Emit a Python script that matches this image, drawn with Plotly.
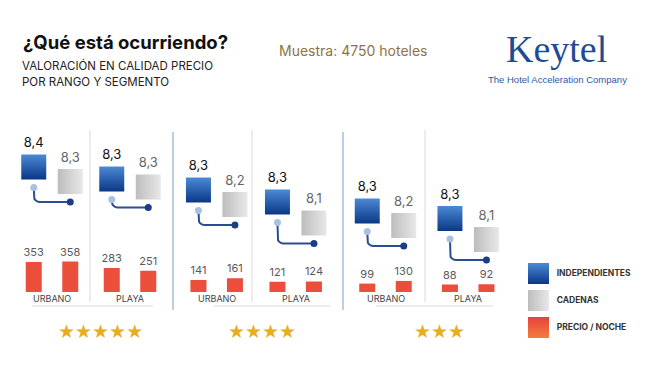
import numpy as np
import plotly.graph_objects as go

# page has an 8px body margin: figure is drawn 8px in from the window edge
OFF = 8
W, H = 642, 359

# ---------------- DATA ----------------
star_groups = ["★★★★★", "★★★★", "★★★"]
segment_names = ["URBANO", "PLAYA", "URBANO", "PLAYA", "URBANO", "PLAYA"]
series_names = ["INDEPENDIENTES", "CADENAS", "PRECIO / NOCHE"]
rating_ind = [8.4, 8.3, 8.3, 8.3, 8.3, 8.3]
rating_cad = [8.3, 8.3, 8.2, 8.1, 8.2, 8.1]
price_ind = [353, 283, 141, 121, 99, 88]
price_cad = [358, 251, 161, 124, 130, 92]

# ---------------- LAYOUT CONSTANTS (window pixels) ----------------
SEG_CENTER_PX = [52, 130, 216.7, 295.7, 385.5, 468.2]
SEG_HALF_PX = 36.5
REF_RATING = 8.3
REF_Y_PX = [173.5, 179, 190, 202, 211, 218.5]   # staircase layout of the panels
PX_PER_POINT = 65.0
CAD_DROP_PX = 8.0
BASELINE_PX = 292.0
PX_PER_EUR = 0.085
SQ = 25

BLUE_TOP, BLUE_BOT = "#4C8AD6", "#0A3786"
GRAY_L, GRAY_R = "#BDBDBD", "#E8E8E8"
RED = "#EB4E3A"
RED_TOP, RED_BOT = "#E8413A", "#F27C3E"


def px(x):
    return (x - OFF) / W


def py(y):
    return 1 - (y - OFF) / H


def fmt(v):
    return f"{v:.1f}".replace(".", ",")


fig = go.Figure()
layout = dict(
    width=W, height=H, autosize=False,
    margin=dict(l=0, r=0, t=0, b=0),
    paper_bgcolor="white", plot_bgcolor="rgba(0,0,0,0)",
    showlegend=False,
    font=dict(family="Inter, Roboto, sans-serif", color="#222"),
)

# price axis shared by all bars
layout["yaxis"] = dict(domain=[py(BASELINE_PX), 1], range=[0, (BASELINE_PX - OFF) / PX_PER_EUR],
                       visible=False, fixedrange=True)

x_per_px = 2.0 / (2 * SEG_HALF_PX)
y_per_px = 1.0 / PX_PER_POINT

for k in range(6):
    xa = "x" if k == 0 else f"x{k+1}"
    xkey = "xaxis" if k == 0 else f"xaxis{k+1}"
    ya = f"y{k+2}"
    ykey = f"yaxis{k+2}"
    c = SEG_CENTER_PX[k]
    layout[xkey] = dict(domain=[px(c - SEG_HALF_PX), px(c + SEG_HALF_PX)], range=[-0.5, 1.5],
                        visible=False, fixedrange=True, anchor="y")
    r_top = REF_RATING + (REF_Y_PX[k] - OFF) / PX_PER_POINT
    layout[ykey] = dict(domain=[0, 1], range=[r_top - H / PX_PER_POINT, r_top],
                        visible=False, fixedrange=True, anchor="free", position=0)

    # price bars
    fig.add_trace(go.Bar(
        x=[0, 1], y=[price_ind[k], price_cad[k]], xaxis=xa, yaxis="y",
        width=16 * x_per_px, marker=dict(color=RED, line=dict(width=0)),
        text=[str(price_ind[k]), str(price_cad[k])], textposition="outside",
        constraintext="none",
        textfont=dict(size=11, color="#5a5a5a", family="Inter, sans-serif"),
        cliponaxis=False, hoverinfo="skip"))

    ri = rating_ind[k]
    rc = rating_cad[k] - CAD_DROP_PX * y_per_px

    # connector
    d1 = (SQ / 2 + 8) * y_per_px
    y_light = ri - d1
    y_dark = rc - d1
    rx, ry = 6 * x_per_px, 6 * y_per_px
    t = np.linspace(np.pi, 1.5 * np.pi, 8)
    arc_x = rx + rx * np.cos(t)
    arc_y = y_dark + ry + ry * np.sin(t)
    cx = [0] + list(arc_x) + [1]
    cy = [y_light] + list(arc_y) + [y_dark]
    fig.add_trace(go.Scatter(x=cx, y=cy, xaxis=xa, yaxis=ya, mode="lines",
                             line=dict(color="#2B4D92", width=2), hoverinfo="skip"))
    fig.add_trace(go.Scatter(x=[0], y=[y_light], xaxis=xa, yaxis=ya, mode="markers",
                             marker=dict(color="#A9C1E0", size=7), hoverinfo="skip"))
    fig.add_trace(go.Scatter(x=[1], y=[y_dark], xaxis=xa, yaxis=ya, mode="markers",
                             marker=dict(color="#1B3C88", size=7), hoverinfo="skip"))

    # squares
    fig.add_trace(go.Scatter(
        x=[0], y=[ri], xaxis=xa, yaxis=ya, mode="markers+text",
        marker=dict(symbol="square", size=SQ, color=BLUE_TOP, line=dict(width=0),
                    gradient=dict(type="vertical", color=BLUE_BOT)),
        text=[fmt(rating_ind[k])], textposition="top center",
        textfont=dict(size=13, color="#111", family="Inter, sans-serif"),
        cliponaxis=False, hoverinfo="skip"))
    fig.add_trace(go.Scatter(
        x=[1], y=[rc], xaxis=xa, yaxis=ya, mode="markers+text",
        marker=dict(symbol="square", size=SQ, color=GRAY_L, line=dict(width=0),
                    gradient=dict(type="horizontal", color=GRAY_R)),
        text=[fmt(rating_cad[k])], textposition="top center",
        textfont=dict(size=13, color="#666", family="Inter, sans-serif"),
        cliponaxis=False, hoverinfo="skip"))

# legend overlay axis in window-pixel units
layout["xaxis7"] = dict(domain=[0, 1], range=[OFF, OFF + W], visible=False, fixedrange=True, anchor="y8")
layout["yaxis8"] = dict(domain=[0, 1], range=[OFF + H, OFF], visible=False, fixedrange=True, anchor="x7")
leg_y = [273.5, 300.5, 327.5]
leg_cols = [(BLUE_TOP, BLUE_BOT, "vertical"), (GRAY_L, GRAY_R, "horizontal"), (RED_TOP, RED_BOT, "vertical")]
for i, (c1, c2, gt) in enumerate(leg_cols):
    fig.add_trace(go.Scatter(x=[538.5], y=[leg_y[i]], xaxis="x7", yaxis="y8", mode="markers+text",
                             marker=dict(symbol="square", size=21, color=c1, line=dict(width=0),
                                         gradient=dict(type=gt, color=c2)),
                             text=["  " + series_names[i]], textposition="middle right",
                             textfont=dict(size=8.5, color="#333", family="Inter, sans-serif", weight="bold"),
                             hoverinfo="skip"))

shapes = []
for xg in [173, 343]:
    shapes.append(dict(type="line", xref="paper", yref="paper", x0=px(xg), x1=px(xg),
                       y0=py(132), y1=py(310), line=dict(color="#A8BDDB", width=1.5)))
for xs in [90, 252, 425]:
    shapes.append(dict(type="line", xref="paper", yref="paper", x0=px(xs), x1=px(xs),
                       y0=py(130), y1=py(302), line=dict(color="#E6E6E6", width=1.5)))
for a, b in [(32, 153), (214, 330), (376, 493)]:
    shapes.append(dict(type="line", xref="paper", yref="paper", x0=px(a), x1=px(b),
                       y0=py(306), y1=py(306), line=dict(color="#D9D9D9", width=1)))
layout["shapes"] = shapes

ann = []
ann.append(dict(text="<b>¿Qué está ocurriendo?</b>", x=px(21), y=py(42), xref="paper", yref="paper",
                xanchor="left", yanchor="middle", showarrow=False,
                font=dict(size=18.5, color="#111", family="Inter, sans-serif")))
ann.append(dict(text="VALORACIÓN EN CALIDAD PRECIO", x=px(20), y=py(65), xref="paper", yref="paper",
                xanchor="left", yanchor="middle", showarrow=False,
                font=dict(size=11.5, color="#222", family="Inter, sans-serif")))
ann.append(dict(text="POR RANGO Y SEGMENTO", x=px(20), y=py(82), xref="paper", yref="paper",
                xanchor="left", yanchor="middle", showarrow=False,
                font=dict(size=11.5, color="#222", family="Inter, sans-serif")))
ann.append(dict(text="Muestra: 4750 hoteles", x=px(277), y=py(50), xref="paper", yref="paper",
                xanchor="left", yanchor="middle", showarrow=False,
                font=dict(size=14, color="#8C7446", family="Inter, sans-serif")))
ann.append(dict(text="Keytel", x=px(556.5), y=py(49), xref="paper", yref="paper",
                xanchor="center", yanchor="middle", showarrow=False,
                font=dict(size=38, color="#1E4B93", family="Liberation Serif, serif")))
ann.append(dict(text="The Hotel Acceleration Company", x=px(557.5), y=py(80), xref="paper", yref="paper",
                xanchor="center", yanchor="middle", showarrow=False,
                font=dict(size=9.5, color="#2A5AA5", family="Liberation Sans, Arial, sans-serif")))
for k in range(6):
    xa = "x" if k == 0 else f"x{k+1}"
    ann.append(dict(text=segment_names[k], x=0.5, y=py(298.5), xref=xa, yref="paper",
                    xanchor="center", yanchor="middle", showarrow=False,
                    font=dict(size=9, color="#444", family="Inter, sans-serif")))
for g, xc in zip(star_groups, [100.5, 262, 439]):
    ann.append(dict(text=g, x=px(xc), y=py(331), xref="paper", yref="paper",
                    xanchor="center", yanchor="middle", showarrow=False,
                    font=dict(size=19, color="#E8AE1F", family="DejaVu Sans")))
layout["annotations"] = ann

fig.update_layout(**layout)
fig.write_html("out.html")
